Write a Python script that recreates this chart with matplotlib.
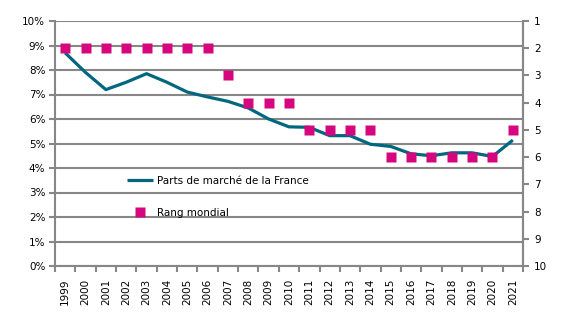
import matplotlib
matplotlib.use("Agg")
import matplotlib.pyplot as plt
import numpy as np
from matplotlib.ticker import FixedLocator, PercentFormatter

# data
years = [str(y) for y in range(1999, 2022)]
parts_marche = [8.7, 7.9, 7.2, 7.5, 7.85, 7.5, 7.1, 6.9, 6.72, 6.45, 6.0, 5.68,
                5.66, 5.32, 5.32, 4.97, 4.88, 4.58, 4.5, 4.62, 4.62, 4.47, 5.14]
rang_mondial = [2, 2, 2, 2, 2, 2, 2, 2, 3, 4, 4, 4, 5, 5, 5, 5, 6, 6, 6, 6, 6, 6, 5]

line_color = "#00677f"
marker_color = "#d6077e"
grid_color = "#878787"

plt.rcParams["font.family"] = "DejaVu Sans"
plt.rcParams["font.size"] = 7.5

fig = plt.figure(figsize=(5.66, 3.22), dpi=100)
ax = fig.add_axes([55 / 566, 1 - 266 / 322, 468 / 566, 245 / 322])
x = np.arange(len(years))

# market share line (left axis)
ln, = ax.plot(x, parts_marche, color=line_color, lw=2.3, solid_capstyle="butt",
              label="Parts de marché de la France", zorder=3)
ax.set_ylim(0, 10)
ax.set_yticks(np.arange(0, 11, 1))
ax.yaxis.set_major_formatter(PercentFormatter(decimals=0))
ax.grid(axis="y", color=grid_color, lw=1.5)
ax.set_axisbelow(True)
ax.set_xlim(-0.5, len(years) - 0.5)

# category ticks between years, labels at centres
ax.xaxis.set_major_locator(FixedLocator(np.arange(-0.5, len(years), 1)))
ax.xaxis.set_major_formatter(plt.NullFormatter())
ax.xaxis.set_minor_locator(FixedLocator(x))
ax.set_xticklabels(years, minor=True, rotation=90)
ax.tick_params(axis="x", which="minor", length=0, pad=9)
ax.tick_params(axis="x", which="major", length=4, width=1.5, color=grid_color)
ax.tick_params(axis="y", length=4, width=1.5, color=grid_color, pad=3)

ax.spines["top"].set_visible(False)
for side in ["left", "bottom", "right"]:
    ax.spines[side].set_color(grid_color)
    ax.spines[side].set_linewidth(1.5)

# world rank markers (right axis, inverted)
ax2 = ax.twinx()
sc, = ax2.plot(x, rang_mondial, ls="none", marker="s", ms=6.5, mec="none",
               color=marker_color, label="Rang mondial", zorder=4)
ax2.set_ylim(10, 1)
ax2.set_yticks(range(1, 11))
ax2.tick_params(axis="y", length=4, width=1.5, color=grid_color, pad=4)
for side in ["top", "left", "bottom"]:
    ax2.spines[side].set_visible(False)
ax2.spines["right"].set_color(grid_color)
ax2.spines["right"].set_linewidth(1.5)

ax2.legend(handles=[ln, sc], loc="upper left", bbox_to_anchor=(0.154, 0.367),
           frameon=False, handlelength=2.5, handletextpad=0.4,
           labelspacing=2.1, borderpad=0, borderaxespad=0)

fig.savefig("out.png", dpi=100)
